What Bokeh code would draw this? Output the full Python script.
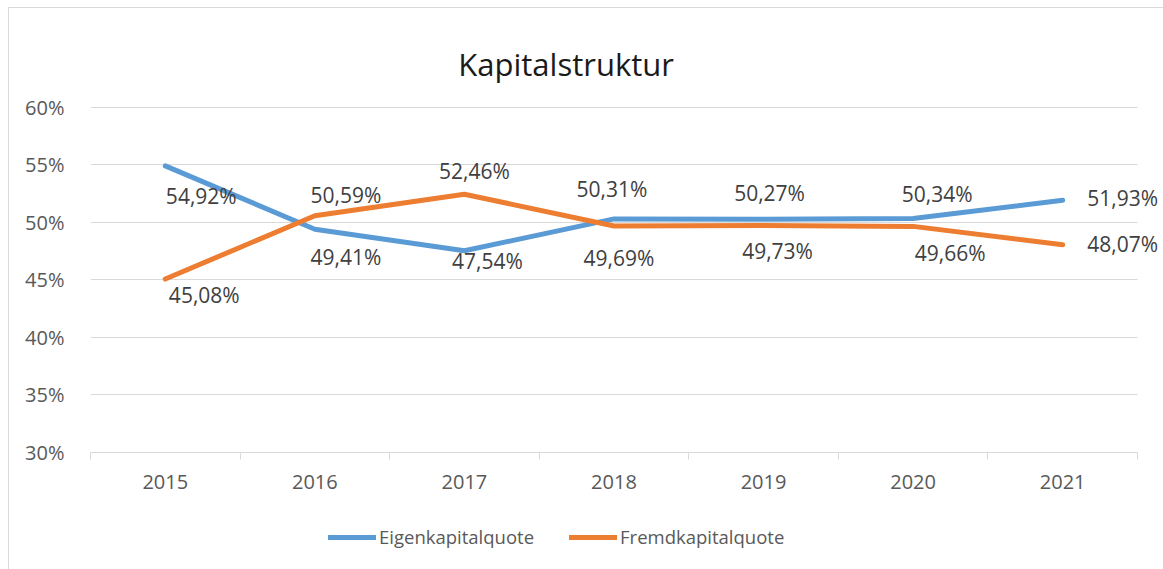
from bokeh.plotting import figure
from bokeh.layouts import column
from bokeh.models import (Range1d, FixedTicker, PrintfTickFormatter, Legend, LegendItem,
                          Label, ColumnDataSource)
from bokeh.core.properties import value
from bokeh.embed import file_html
from bokeh.resources import INLINE

years = ["2015", "2016", "2017", "2018", "2019", "2020", "2021"]
eigenkapital = [54.92, 49.41, 47.54, 50.31, 50.27, 50.34, 51.93]
fremdkapital = [45.08, 50.59, 52.46, 49.69, 49.73, 49.66, 48.07]
y_ticks = [30, 35, 40, 45, 50, 55, 60]
series_names = ["Eigenkapitalquote", "Fremdkapitalquote"]

# label placement (pixel offsets from each point)
ek_dx = [36, 31, 23, -2, 6, 24, 60]
ek_dy = [30, 28, 10, -30, -26, -25, -2]
fk_dx = [39, 31, 10, 5, 14, 37, 60]
fk_dy = [16, -21, -23, 32, 25, 27, -1]

BLUE = "#5B9BD5"
ORANGE = "#ED7D31"
GRID = "#D9D9D9"
FONT = "Open Sans"

n = len(years)
xs = [i + 0.5 for i in range(n)]

def fmt(v):
    return f"{v:.2f}".replace(".", ",") + "%"

p = figure(width=1163, height=500, output_backend="svg", toolbar_location=None,
           x_range=Range1d(0, n + 0.174), y_range=Range1d(y_ticks[0], 69.3),
           min_border_left=90, min_border_right=0, min_border_top=0, min_border_bottom=48)
p.border_fill_color = None
p.background_fill_color = None
p.outline_line_color = None

# axes
p.xaxis.ticker = FixedTicker(ticks=xs, minor_ticks=list(range(n + 1)))
p.xaxis.major_label_overrides = {x: y for x, y in zip(xs, years)}
p.xaxis.bounds = (0, n)
p.xaxis.major_tick_out = 0
p.xaxis.major_tick_in = 0
p.xaxis.minor_tick_out = 7
p.xaxis.minor_tick_in = 0
p.xaxis.minor_tick_line_color = GRID
p.xaxis.axis_line_color = GRID
p.xaxis.major_label_standoff = 15
p.xaxis.major_label_text_font = FONT
p.xaxis.major_label_text_font_size = "20px"
p.xaxis.major_label_text_color = "#595959"

p.yaxis.ticker = FixedTicker(ticks=y_ticks)
p.yaxis.formatter = PrintfTickFormatter(format="%d%%")
p.yaxis.bounds = (y_ticks[0], y_ticks[-1])
p.yaxis.axis_line_color = None
p.yaxis.major_tick_line_color = None
p.yaxis.minor_tick_line_color = None
p.yaxis.major_label_standoff = 20
p.yaxis.major_label_text_font = FONT
p.yaxis.major_label_text_font_size = "20px"
p.yaxis.major_label_text_color = "#595959"

p.xgrid.grid_line_color = None
p.ygrid.ticker = FixedTicker(ticks=y_ticks[1:])
p.ygrid.grid_line_color = GRID
p.ygrid.grid_line_width = 1
try:
    p.ygrid.cross_bounds = (0, n)
except Exception:
    p.ygrid.grid_line_color = None
    p.segment(x0=[0] * (n - 1), x1=[n] * (n - 1), y0=y_ticks[1:], y1=y_ticks[1:],
              line_color=GRID, line_width=1)

# lines
line_kw = dict(line_width=5, line_cap="round", line_join="round")
p.line(xs, eigenkapital, line_color=BLUE, **line_kw)
p.line(xs, fremdkapital, line_color=ORANGE, **line_kw)

# data labels
src_ek = ColumnDataSource(dict(x=xs, y=eigenkapital, t=[fmt(v) for v in eigenkapital], dx=ek_dx, dy=ek_dy))
src_fk = ColumnDataSource(dict(x=xs, y=fremdkapital, t=[fmt(v) for v in fremdkapital], dx=fk_dx, dy=fk_dy))
for src in (src_ek, src_fk):
    p.text(x="x", y="y", text="t", x_offset="dx", y_offset="dy", source=src,
           text_align="center", text_baseline="alphabetic",
           text_font=value(FONT), text_font_size="21px", text_color="#404040")

# title
p.add_layout(Label(x=3.18, y=63.75, text="Kapitalstruktur",
                   text_align="center", text_baseline="alphabetic",
                   text_font=FONT, text_font_size="31px", text_color="#1a1a1a"))

# legend strip (second figure, same series styles)
q = figure(width=1163, height=69, output_backend="svg", toolbar_location=None,
           x_range=Range1d(100, 101), y_range=Range1d(100, 101),
           x_axis_location=None, y_axis_location=None,
           min_border_left=0, min_border_right=0, min_border_top=0, min_border_bottom=0)
q.border_fill_color = None
q.background_fill_color = None
q.outline_line_color = None
q.grid.visible = False
l1 = q.line(xs, eigenkapital, line_color=BLUE, **line_kw)
l2 = q.line(xs, fremdkapital, line_color=ORANGE, **line_kw)
legend = Legend(items=[LegendItem(label=series_names[0], renderers=[l1]),
                       LegendItem(label=series_names[1], renderers=[l2])],
                orientation="horizontal", location=(238, 20),
                padding=0, margin=0, spacing=35, glyph_width=48, glyph_height=20,
                label_height=20, label_standoff=3,
                label_text_font=FONT, label_text_font_size="18.5px", label_text_color="#595959",
                border_line_color=None, background_fill_alpha=0)
q.add_layout(legend)

layout = column(p, q, spacing=0)
layout.styles = {
    "background": "linear-gradient(#d9d9d9,#d9d9d9) 8px 7px / 1px 100% no-repeat, "
                  "linear-gradient(#d9d9d9,#d9d9d9) 8px 7px / 100% 1px no-repeat, white"
}

open("out.html", "w").write(file_html(layout, INLINE))
